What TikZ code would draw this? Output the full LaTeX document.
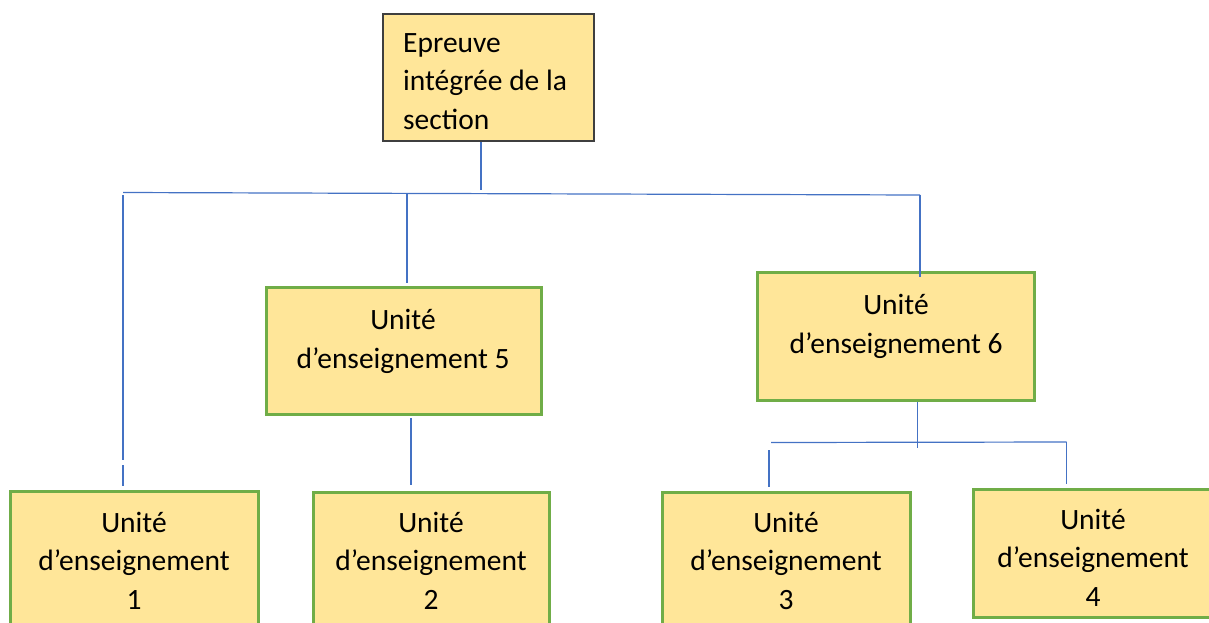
\documentclass[tikz,border=0pt]{standalone}
\usepackage{fontspec}
\setmainfont{Carlito}
\definecolor{uefill}{HTML}{FFE699}
\definecolor{uegreen}{HTML}{70AD47}
\definecolor{lineblue}{HTML}{4472C4}
\definecolor{topborder}{HTML}{3F3F3F}
\begin{document}
\begin{tikzpicture}[x=1pt,y=-1pt,
  box/.style={rectangle, draw=uegreen, line width=3pt, fill=uefill, inner sep=0pt},
  topbox/.style={rectangle, draw=topborder, line width=1.8pt, fill=uefill, inner sep=0pt},
  txt/.style={font=\fontsize{29.5}{38.5}\selectfont, inner sep=0pt, align=center, anchor=base},
  conn/.style={draw=lineblue, line width=1.2pt}]
\useasboundingbox (0,0) rectangle (1209,622);
\clip (0,0) rectangle (1209,622);
% boxes
\node[topbox, minimum width=211pt, minimum height=127pt] (top) at (488.5,77.5) {};
\node[box, minimum width=275pt, minimum height=127pt] (ue5) at (403.5,350.5) {};
\node[box, minimum width=277pt, minimum height=128pt] (ue6) at (895.5,336) {};
\node[box, minimum width=248pt, minimum height=140pt] (ue1) at (134,561) {};
\node[box, minimum width=236pt, minimum height=140pt] (ue2) at (431,562) {};
\node[box, minimum width=248pt, minimum height=140pt] (ue3) at (786,562) {};
\node[box, minimum width=240pt, minimum height=128pt] (ue4) at (1093,553) {};
% texts (anchor base = baseline of the last line)
\node[txt, align=left, anchor=base west] (toptxt) at (403,129) {Epreuve\\intégrée de la\\section};
\node[txt] (t5) at (403,368) {Unité\\d’enseignement 5};
\node[txt] (t6) at (896,353) {Unité\\d’enseignement 6};
\node[txt] (t1) at (134,609) {Unité\\d’enseignement\\1};
\node[txt] (t2) at (431,609) {Unité\\d’enseignement\\2};
\node[txt] (t3) at (786,609) {Unité\\d’enseignement\\3};
\node[txt] (t4) at (1093,606) {Unité\\d’enseignement\\4};
% connector coordinates
\coordinate (bt) at (481,190);
\coordinate (busL) at (123,192.5);
\coordinate (busR) at (920,195);
\coordinate (l1a) at (123,195);
\coordinate (l1b) at (123,460);
\coordinate (l1c) at (123,465);
\coordinate (l1d) at (123,486);
\coordinate (l5a) at (407,193);
\coordinate (l5b) at (407,283);
\coordinate (l6b) at (920,277);
\coordinate (s6a) at (917.5,448);
\coordinate (sbL) at (771,442.5);
\coordinate (sbR) at (1066.5,442);
\coordinate (l3a) at (769,450);
\coordinate (l3b) at (769,487);
\coordinate (l4b) at (1066.5,484);
\coordinate (l2a) at (411,418);
\coordinate (l2b) at (411,485);
% connectors
\draw[conn] (top.south -| bt) -- (bt);
\draw[conn] (busL) -- (busR);
\draw[conn] (l1a) -- (l1b);
\draw[conn] (l1c) -- (l1d);
\draw[conn] (l5a) -- (l5b);
\draw[conn] (busR) -- (l6b);
\draw[conn] (ue6.south -| s6a) -- (s6a);
\draw[conn] (sbL) -- (sbR);
\draw[conn] (l3a) -- (l3b);
\draw[conn] (sbR) -- (l4b);
\draw[conn] (l2a) -- (l2b);
\end{tikzpicture}
\end{document}
